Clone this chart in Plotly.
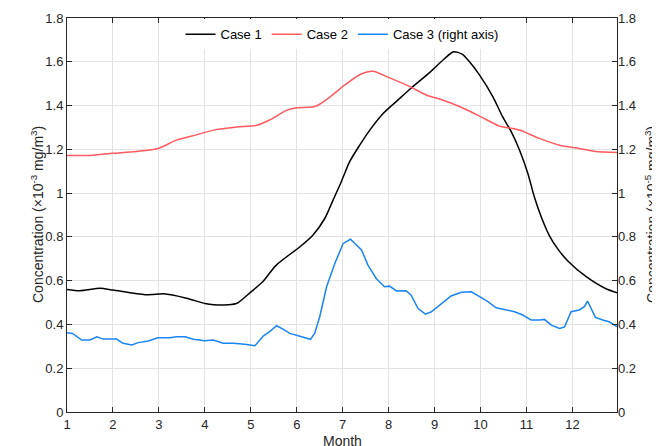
import plotly.graph_objects as go

# Case 1 (black, left axis)
case1_month = [1.0, 1.28, 1.72, 2.0, 2.7, 3.0, 3.1, 3.6, 4.0, 4.2, 4.5, 4.7, 5.0, 5.26, 5.55,
               6.07, 6.35, 6.61, 6.79, 6.97, 7.15, 7.37, 7.59, 7.88, 8.2, 8.48, 8.91, 9.22,
               9.41, 9.6, 9.76, 9.98, 10.27, 10.48, 10.67, 10.85, 11.03, 11.17, 11.32, 11.5,
               11.68, 11.9, 12.3, 12.73, 12.97]
case1_value = [0.56, 0.554, 0.565, 0.557, 0.536, 0.539, 0.54, 0.52, 0.496, 0.49, 0.49, 0.497,
               0.548, 0.595, 0.67, 0.755, 0.808, 0.884, 0.968, 1.052, 1.143, 1.219, 1.288,
               1.364, 1.425, 1.478, 1.554, 1.615, 1.646, 1.635, 1.6, 1.539, 1.44, 1.349, 1.28,
               1.196, 1.09, 0.983, 0.892, 0.805, 0.745, 0.69, 0.618, 0.563, 0.545]

# Case 2 (red, left axis)
case2_month = [1.0, 1.5, 2.0, 2.5, 3.0, 3.38, 3.8, 4.24, 4.7, 5.13, 5.4, 5.79, 6.0, 6.25, 6.43,
               6.73, 7.04, 7.39, 7.66, 7.97, 8.44, 8.83, 9.14, 9.53, 9.98, 10.41, 10.62,
               10.85, 11.28, 11.72, 12.15, 12.5, 12.97]
case2_value = [1.172, 1.172, 1.182, 1.19, 1.205, 1.242, 1.265, 1.29, 1.302, 1.31, 1.333, 1.379,
               1.39, 1.392, 1.398, 1.44, 1.493, 1.543, 1.557, 1.531, 1.489, 1.447, 1.428,
               1.397, 1.352, 1.306, 1.298, 1.288, 1.25, 1.219, 1.204, 1.19, 1.185]

# Case 3 (blue, right axis)
case3_month = [1.0, 1.12, 1.32, 1.5, 1.65, 1.79, 2.08, 2.22, 2.41, 2.55, 2.77, 2.98, 3.24, 3.38,
               3.57, 3.75, 4.0, 4.18, 4.4, 4.62, 4.87, 5.09, 5.27, 5.41, 5.56, 5.7, 5.85, 6.07,
               6.21, 6.3, 6.39, 6.5, 6.65, 6.83, 7.01, 7.17, 7.41, 7.55, 7.73, 7.91, 8.02, 8.17,
               8.38, 8.49, 8.64, 8.8, 8.93, 9.11, 9.25, 9.36, 9.58, 9.8, 9.98, 10.16, 10.34,
               10.56, 10.74, 10.92, 11.1, 11.28, 11.39, 11.54, 11.72, 11.83, 11.97, 12.15,
               12.26, 12.33, 12.41, 12.5, 12.66, 12.8, 12.97]
case3_value = [0.362, 0.359, 0.329, 0.329, 0.344, 0.333, 0.333, 0.314, 0.306, 0.317, 0.324, 0.339,
               0.339, 0.344, 0.344, 0.332, 0.326, 0.329, 0.314, 0.314, 0.31, 0.303, 0.347, 0.367,
               0.394, 0.379, 0.359, 0.347, 0.336, 0.332, 0.359, 0.435, 0.572, 0.679, 0.77, 0.789,
               0.74, 0.671, 0.61, 0.572, 0.575, 0.553, 0.554, 0.534, 0.473, 0.447, 0.458, 0.489,
               0.511, 0.53, 0.547, 0.549, 0.527, 0.504, 0.476, 0.466, 0.458, 0.443, 0.42, 0.42,
               0.423, 0.397, 0.382, 0.389, 0.458, 0.466, 0.481, 0.507, 0.473, 0.432, 0.42, 0.412,
               0.39]

x_ticks = [1, 2, 3, 4, 5, 6, 7, 8, 9, 10, 11, 12]
y_ticks = [0, 0.2, 0.4, 0.6, 0.8, 1, 1.2, 1.4, 1.6, 1.8]

x_title = "Month"
y_title_left = "Concentration (×10<sup>-3</sup> mg/m<sup>3</sup>)"
y_title_right = "Concentration (×10<sup>-5</sup> mg/m<sup>3</sup>)"

fig = go.Figure()
fig.add_trace(go.Scatter(x=case1_month, y=case1_value, mode="lines", name="Case 1",
                         line=dict(color="#000000", width=1.5, shape="spline", smoothing=0.7)))
fig.add_trace(go.Scatter(x=case2_month, y=case2_value, mode="lines", name="Case 2",
                         line=dict(color="#ff5a5f", width=1.5, shape="spline", smoothing=0.7)))
fig.add_trace(go.Scatter(x=case3_month, y=case3_value, mode="lines", name="Case 3 (right axis)",
                         yaxis="y2", line=dict(color="#1a85f0", width=1.5)))

axis_font = dict(family="Liberation Sans, Arial, sans-serif", size=13, color="#262626")
title_font = dict(family="Liberation Sans, Arial, sans-serif", size=14, color="#262626")

fig.update_layout(
    width=652, height=438,
    margin=dict(l=59, r=43, t=10, b=34),
    paper_bgcolor="white", plot_bgcolor="white",
    font=axis_font,
    showlegend=True,
    legend=dict(orientation="h", x=0.5, xanchor="center", y=0.997, yanchor="top",
                bgcolor="rgba(255,255,255,1)", font=dict(size=13, color="#000000"),
                itemwidth=30, tracegroupgap=0),
    xaxis=dict(range=[1, 12.97], tickvals=x_ticks, ticks="inside", ticklen=5,
               tickcolor="#262626", showline=True, linecolor="#262626", linewidth=1,
               mirror="ticks", showgrid=True, gridcolor="#e3e3e3", zeroline=False,
               automargin=False),
    yaxis=dict(range=[0, 1.8], tickvals=y_ticks, ticks="inside", ticklen=5,
               tickcolor="#262626", showline=True, linecolor="#262626", linewidth=1,
               mirror=True, showgrid=True, gridcolor="#e3e3e3", zeroline=False,
               automargin=False),
    yaxis2=dict(range=[0, 1.8], tickvals=y_ticks, ticks="inside", ticklen=5,
                tickcolor="#262626", overlaying="y", side="right", showline=False,
                showgrid=False, zeroline=False, automargin=False),
    annotations=[
        dict(text=x_title, xref="paper", yref="paper", x=0.5, y=0, xanchor="center",
             yanchor="top", yshift=-19, showarrow=False, font=title_font),
        dict(text=y_title_left, xref="paper", yref="paper", x=0, y=0.5, xanchor="center",
             yanchor="middle", xshift=-30, textangle=-90, showarrow=False, font=title_font),
        dict(text=y_title_right, xref="paper", yref="paper", x=1, y=0.5, xanchor="center",
             yanchor="middle", xshift=34, textangle=-90, showarrow=False, font=title_font),
    ],
)

fig.write_html("out.html")
